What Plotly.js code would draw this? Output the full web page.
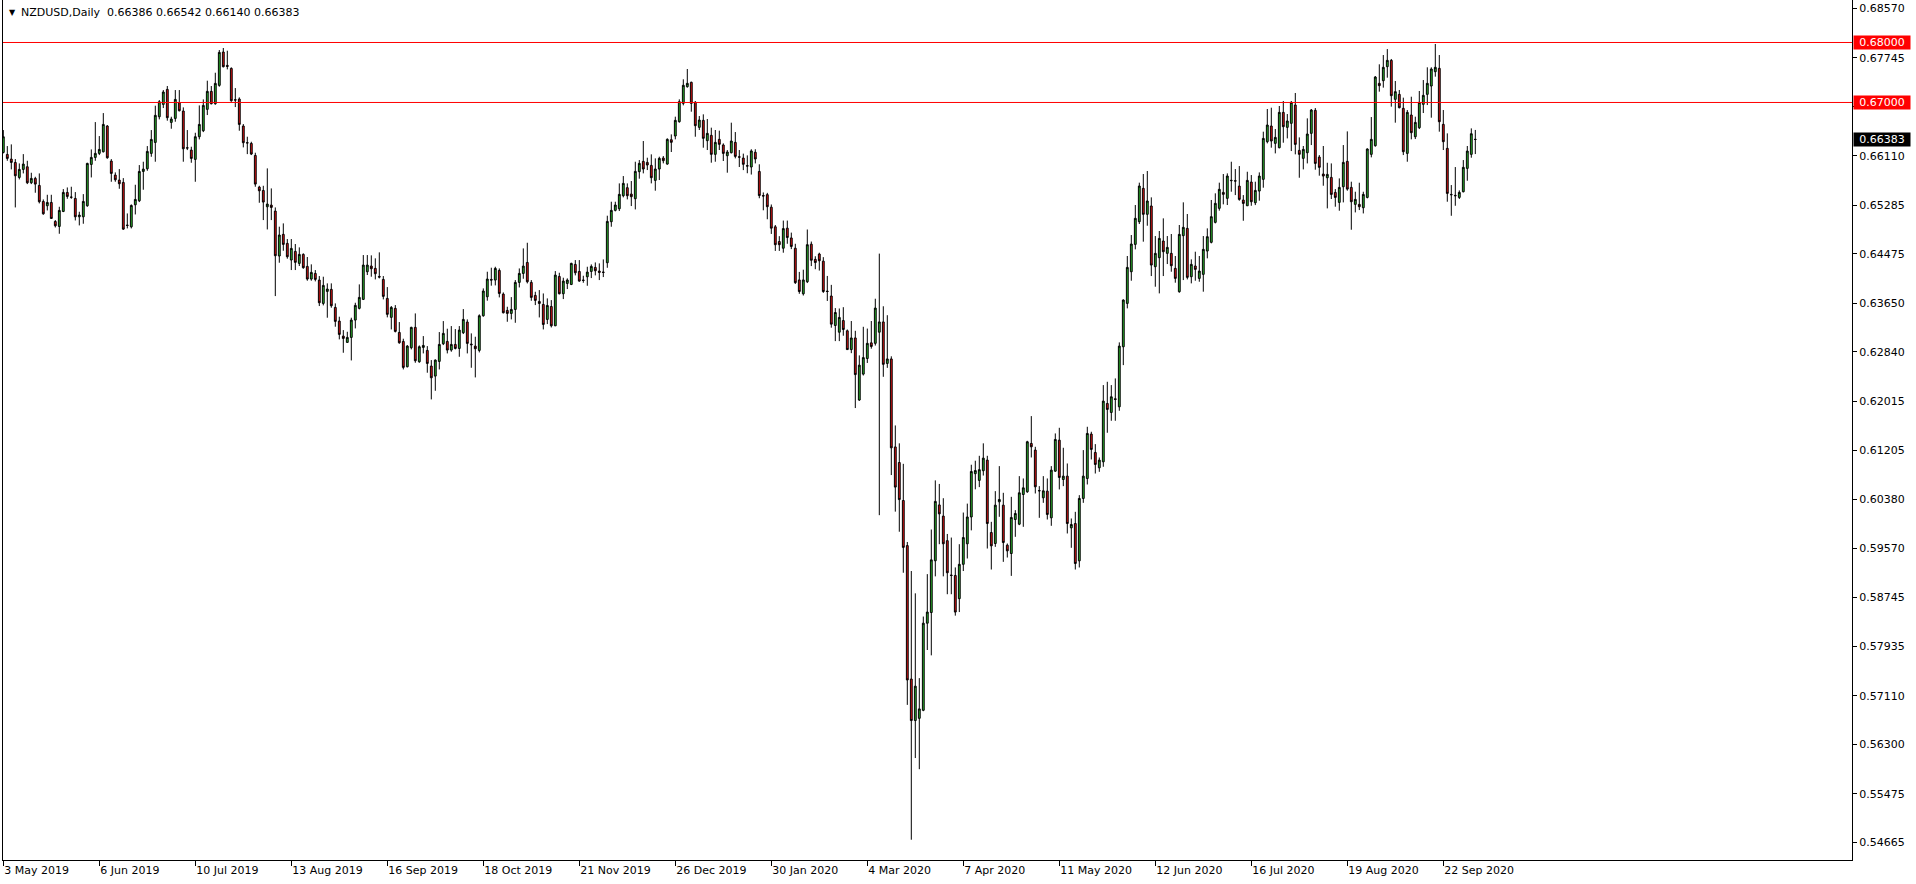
<!DOCTYPE html>
<html>
<head>
<meta charset="utf-8">
<script src="https://cdn.plot.ly/plotly-3.0.1.min.js"></script>
<style>
html,body{margin:0;padding:0;background:#ffffff;overflow:hidden;}
#chart{width:1916px;height:884px;}
</style>
</head>
<body>
<div id="chart"></div>
<script>
// ---- data (NZDUSD daily) ----
const symbolTitle = 'NZDUSD,Daily';
const lastBarOHLC = ['0.66386', '0.66542', '0.66140', '0.66383'];

const open = [
0.66167,0.66134,0.66056,0.66000,0.65750,0.65884,0.65928,0.65661,0.65734,0.65617,
0.65350,0.65278,0.65333,0.65016,0.64933,0.65183,0.65500,0.65422,0.65400,0.65094,
0.65094,0.65278,0.65967,0.66084,0.66151,0.66178,0.66607,0.66023,0.65789,0.65706,
0.65667,0.64955,0.64927,0.65294,0.65361,0.65850,0.65895,0.66151,0.66334,0.66762,
0.66968,0.67218,0.66668,0.66734,0.66996,0.66857,0.66245,0.66206,0.66051,0.66429,
0.66529,0.66885,0.67185,0.66979,0.67285,0.67841,0.67618,0.67568,0.67046,0.67057,
0.66607,0.66329,0.66317,0.66117,0.65589,0.65533,0.65261,0.65289,0.65189,0.64440,
0.64801,0.64651,0.64373,0.64517,0.64317,0.64467,0.64267,0.64056,0.64150,0.64039,
0.63650,0.63850,0.63884,0.63583,0.63355,0.63105,0.63000,0.63083,0.63372,0.63567,
0.63717,0.64178,0.64273,0.64234,0.64100,0.64050,0.63733,0.63417,0.63567,0.63166,
0.63016,0.62594,0.62911,0.63250,0.62677,0.62916,0.62866,0.62605,0.62438,0.62683,
0.62977,0.63016,0.62872,0.62966,0.62899,0.63161,0.63339,0.62972,0.62938,0.62866,
0.63444,0.63761,0.64050,0.64039,0.64200,0.63805,0.63533,0.63483,0.63549,0.64000,
0.64150,0.64333,0.64000,0.63783,0.63683,0.63633,0.63383,0.63599,0.63277,0.64100,
0.63811,0.63983,0.63966,0.64300,0.64183,0.64039,0.64094,0.64183,0.64250,0.64189,
0.64172,0.64328,0.65012,0.65201,0.65228,0.65445,0.65579,0.65473,0.65395,0.65846,
0.66018,0.66001,0.65951,0.65701,0.65890,0.66074,0.65973,0.66379,0.66441,0.66680,
0.66985,0.67263,0.67336,0.67002,0.66585,0.66702,0.66363,0.66452,0.66135,0.66385,
0.66291,0.66112,0.66162,0.66335,0.66095,0.66073,0.65947,0.65924,0.66170,0.65850,
0.65448,0.65463,0.65254,0.64927,0.64681,0.64570,0.64904,0.64741,0.64570,0.64041,
0.63810,0.64011,0.64637,0.64384,0.64473,0.64354,0.63855,0.63773,0.63282,0.63170,
0.63364,0.63193,0.62880,0.63074,0.62039,0.62471,0.62731,0.62992,0.62984,0.63170,
0.63341,0.62649,0.62724,0.61257,0.60997,0.60364,0.59612,0.57387,0.56695,0.56732,
0.56866,0.58318,0.58496,0.59359,0.60290,0.60104,0.59694,0.59121,0.59114,0.58727,
0.59300,0.59642,0.60089,0.60811,0.60699,0.60860,0.61037,0.59830,0.59647,0.60342,
0.60286,0.59619,0.59480,0.60047,0.59969,0.60464,0.60509,0.61315,0.61204,0.60531,
0.60409,0.60520,0.60075,0.60853,0.61370,0.60714,0.60770,0.59908,0.59980,0.59358,
0.60398,0.60731,0.61471,0.61165,0.60909,0.61009,0.61982,0.61832,0.62060,0.61926,
0.62927,0.63650,0.64178,0.64634,0.65012,0.65568,0.65135,0.65274,0.64262,0.64412,
0.64690,0.64484,0.64484,0.64234,0.63845,0.64779,0.64901,0.64095,0.64273,0.64067,
0.64134,0.64523,0.64668,0.65001,0.65235,0.65501,0.65401,0.65695,0.65695,0.65606,
0.65373,0.65278,0.65673,0.65328,0.65523,0.65718,0.66346,0.66607,0.66318,0.66246,
0.66835,0.66585,0.66652,0.66957,0.66201,0.66068,0.66162,0.66485,0.66869,0.66090,
0.65807,0.65745,0.65751,0.65501,0.65334,0.65595,0.66018,0.65584,0.65301,0.65301,
0.65245,0.65417,0.66135,0.66279,0.67319,0.67363,0.67597,0.67702,0.67052,0.67135,
0.66902,0.66151,0.66791,0.66429,0.66579,0.66969,0.67135,0.67274,0.67513,0.67569,
0.66635,0.66235,0.65467,0.65451,0.65417,0.65512,0.65901,0.66135,0.66386
];

const high = [
0.66540,0.66273,0.66301,0.66056,0.65984,0.66139,0.66028,0.65828,0.65761,0.65817,
0.65383,0.65461,0.65461,0.65039,0.65261,0.65556,0.65583,0.65595,0.65506,0.65178,
0.65472,0.65995,0.66217,0.66673,0.66440,0.66823,0.66623,0.66056,0.65834,0.65889,
0.65739,0.65150,0.65300,0.65628,0.65956,0.66012,0.66273,0.66540,0.66946,0.67040,
0.67207,0.67274,0.66762,0.67207,0.67207,0.66918,0.66540,0.66262,0.66495,0.66951,
0.67051,0.67363,0.67274,0.67496,0.67874,0.67908,0.67863,0.67585,0.67240,0.67085,
0.66640,0.66429,0.66345,0.66162,0.65611,0.65611,0.65901,0.65567,0.65250,0.64929,
0.64984,0.64723,0.64723,0.64640,0.64584,0.64484,0.64423,0.64301,0.64206,0.64106,
0.64095,0.63984,0.63984,0.63650,0.63428,0.63205,0.63177,0.63411,0.63661,0.63967,
0.64456,0.64456,0.64451,0.64401,0.64501,0.64106,0.63922,0.63606,0.63622,0.63339,
0.63061,0.62955,0.63261,0.63483,0.62949,0.63105,0.62938,0.62705,0.62716,0.63172,
0.63355,0.63228,0.63272,0.63222,0.63272,0.63555,0.63383,0.63150,0.63094,0.63467,
0.63900,0.64178,0.64245,0.64261,0.64233,0.63833,0.63594,0.63755,0.64039,0.64233,
0.64567,0.64661,0.64039,0.63844,0.63872,0.63816,0.63733,0.63705,0.64189,0.64161,
0.64078,0.64067,0.64328,0.64372,0.64372,0.64111,0.64261,0.64300,0.64333,0.64317,
0.64383,0.65112,0.65345,0.65345,0.65651,0.65773,0.65651,0.65690,0.66012,0.66040,
0.66357,0.66079,0.66135,0.66068,0.66096,0.66107,0.66402,0.66468,0.66763,0.67052,
0.67386,0.67558,0.67347,0.67024,0.66774,0.66802,0.66724,0.66580,0.66541,0.66530,
0.66318,0.66207,0.66663,0.66507,0.66207,0.66147,0.66118,0.66220,0.66220,0.65969,
0.65500,0.65493,0.65299,0.64957,0.64771,0.65031,0.65031,0.64830,0.64644,0.64175,
0.64212,0.64882,0.64681,0.64436,0.64495,0.64421,0.64108,0.63959,0.63572,0.63565,
0.63587,0.63215,0.63356,0.63193,0.62783,0.63260,0.63230,0.63356,0.63728,0.64480,
0.63602,0.63453,0.62768,0.61615,0.61317,0.60975,0.59672,0.59188,0.58816,0.57402,
0.58429,0.59136,0.59880,0.60699,0.60640,0.60402,0.59806,0.59746,0.59248,0.59635,
0.60163,0.60312,0.60960,0.61027,0.61109,0.61317,0.61109,0.60008,0.60520,0.60937,
0.60492,0.59647,0.60425,0.60203,0.60770,0.60731,0.61359,0.61771,0.61259,0.60603,
0.60770,0.60731,0.60937,0.61482,0.61576,0.61243,0.60981,0.60064,0.60175,0.60453,
0.61204,0.61593,0.61510,0.61304,0.61081,0.62288,0.62343,0.62288,0.62399,0.63000,
0.63717,0.64440,0.64790,0.65290,0.65663,0.65807,0.65857,0.65418,0.64773,0.64857,
0.65068,0.64773,0.64807,0.64440,0.64957,0.65335,0.65140,0.64384,0.64512,0.64440,
0.64773,0.64901,0.65374,0.65485,0.65663,0.65807,0.65818,0.66012,0.65890,0.65940,
0.65456,0.65845,0.65790,0.65679,0.65834,0.66513,0.66891,0.66913,0.66557,0.66941,
0.67024,0.66807,0.67024,0.67158,0.66418,0.66274,0.66735,0.66891,0.66907,0.66123,
0.66274,0.65995,0.65984,0.65556,0.65734,0.66290,0.66518,0.65679,0.65512,0.65662,
0.65512,0.66235,0.66757,0.67441,0.67636,0.67791,0.67890,0.67725,0.67358,0.67208,
0.67080,0.66874,0.67096,0.66763,0.67191,0.67374,0.67586,0.67586,0.67975,0.67791,
0.66874,0.66485,0.65623,0.65923,0.65534,0.66040,0.66274,0.66568,0.66542
];

const low = [
0.66151,0.66028,0.65884,0.65250,0.65717,0.65817,0.65639,0.65639,0.65495,0.65317,
0.65128,0.65200,0.65066,0.64916,0.64811,0.65172,0.65394,0.65394,0.65033,0.64950,
0.64978,0.65261,0.65750,0.66028,0.66123,0.66167,0.66062,0.65678,0.65678,0.65561,
0.64877,0.64900,0.64900,0.65133,0.65339,0.65545,0.65861,0.66095,0.66012,0.66718,
0.66907,0.66696,0.66562,0.66679,0.66851,0.66012,0.66206,0.65995,0.65678,0.66384,
0.66506,0.66790,0.66968,0.66962,0.67263,0.67585,0.67552,0.67012,0.66923,0.66529,
0.66251,0.66139,0.66123,0.65595,0.65328,0.65039,0.64883,0.65039,0.63772,0.64328,
0.64528,0.64395,0.64206,0.64206,0.64273,0.64228,0.64028,0.64028,0.64017,0.63606,
0.63617,0.63411,0.63578,0.63261,0.63050,0.62827,0.62994,0.62699,0.63233,0.63550,
0.63706,0.64123,0.64095,0.64050,0.64067,0.63717,0.63417,0.63216,0.63166,0.62977,
0.62549,0.62583,0.62883,0.62660,0.62660,0.62816,0.62494,0.62049,0.62193,0.62549,
0.62955,0.62816,0.62844,0.62883,0.62760,0.63139,0.62816,0.62577,0.62416,0.62833,
0.63428,0.63695,0.63945,0.63950,0.63750,0.63483,0.63344,0.63383,0.63327,0.63916,
0.64061,0.63983,0.63694,0.63622,0.63416,0.63216,0.63305,0.63249,0.63271,0.63800,
0.63722,0.63889,0.63955,0.64117,0.64011,0.63994,0.63944,0.64072,0.64117,0.64039,
0.64089,0.64244,0.64928,0.65184,0.65190,0.65418,0.65384,0.65273,0.65217,0.65729,
0.65818,0.65873,0.65651,0.65529,0.65707,0.65985,0.65962,0.66174,0.66385,0.66663,
0.66952,0.67247,0.66846,0.66429,0.66541,0.66246,0.66207,0.65996,0.66012,0.66207,
0.66024,0.65829,0.66151,0.66068,0.65924,0.65872,0.65820,0.65798,0.65984,0.65403,
0.65202,0.65053,0.64808,0.64525,0.64525,0.64495,0.64644,0.64555,0.63974,0.63810,
0.63781,0.63989,0.64272,0.64220,0.64197,0.63825,0.63691,0.63245,0.63021,0.63021,
0.63111,0.62873,0.62820,0.61905,0.62024,0.62448,0.62657,0.62895,0.62947,0.60119,
0.62426,0.62575,0.60788,0.60178,0.59843,0.59159,0.56956,0.54708,0.56070,0.55884,
0.56851,0.57871,0.57782,0.59099,0.59635,0.59099,0.58801,0.58801,0.58444,0.58504,
0.59188,0.59397,0.59866,0.60550,0.60587,0.60780,0.59563,0.59213,0.59591,0.60092,
0.59341,0.59413,0.59107,0.59758,0.59953,0.59925,0.60492,0.61081,0.60481,0.60075,
0.60325,0.60047,0.59942,0.60842,0.60548,0.60603,0.59814,0.59575,0.59213,0.59247,
0.60325,0.60631,0.61048,0.60814,0.60842,0.60926,0.61493,0.61693,0.61693,0.61860,
0.62621,0.63567,0.64028,0.64551,0.64973,0.64679,0.64945,0.64106,0.63928,0.63817,
0.64106,0.64306,0.64178,0.63995,0.63828,0.64039,0.64050,0.63984,0.64028,0.64011,
0.63845,0.64401,0.64651,0.64984,0.65196,0.65301,0.65290,0.65512,0.65456,0.65362,
0.65028,0.65273,0.65278,0.65289,0.65362,0.65579,0.66318,0.66246,0.66151,0.66235,
0.66329,0.66401,0.66190,0.66135,0.65745,0.65884,0.65984,0.66290,0.65879,0.65779,
0.65612,0.65234,0.65390,0.65262,0.65195,0.65334,0.65529,0.64878,0.65167,0.65206,
0.65150,0.65401,0.66085,0.66263,0.67180,0.67247,0.67413,0.66930,0.66663,0.66902,
0.66123,0.66012,0.66385,0.66390,0.66557,0.66824,0.66957,0.66746,0.67430,0.66513,
0.66207,0.65345,0.65111,0.65278,0.65390,0.65501,0.65695,0.66079,0.66140
];

const close = [
0.66429,0.66067,0.66000,0.65778,0.65884,0.65973,0.65661,0.65734,0.65639,0.65345,
0.65144,0.65333,0.65066,0.64944,0.65200,0.65500,0.65433,0.65420,0.65094,0.65122,
0.65350,0.65984,0.66084,0.66151,0.66217,0.66634,0.66078,0.65817,0.65711,0.65645,
0.64888,0.64950,0.65283,0.65383,0.65850,0.65889,0.66184,0.66384,0.66785,0.67012,
0.67174,0.66746,0.66723,0.67051,0.66862,0.66228,0.66240,0.66067,0.66429,0.66634,
0.66951,0.67185,0.66979,0.67318,0.67835,0.67596,0.67602,0.67029,0.67040,0.66634,
0.66329,0.66325,0.66140,0.65639,0.65528,0.65339,0.65306,0.65250,0.64445,0.64790,
0.64634,0.64428,0.64567,0.64334,0.64467,0.64245,0.64056,0.64167,0.64050,0.63661,
0.63950,0.63889,0.63611,0.63350,0.63133,0.63066,0.63083,0.63372,0.63617,0.63750,
0.64289,0.64289,0.64228,0.64145,0.64089,0.63767,0.63467,0.63583,0.63183,0.62994,
0.62583,0.62938,0.63250,0.62694,0.62927,0.62949,0.62649,0.62410,0.62705,0.62966,
0.63150,0.62872,0.62966,0.62899,0.63205,0.63383,0.62983,0.62961,0.62894,0.63444,
0.63856,0.64056,0.64039,0.64233,0.63816,0.63494,0.63483,0.63549,0.64000,0.64150,
0.64272,0.64011,0.63750,0.63700,0.63649,0.63299,0.63616,0.63277,0.64122,0.63811,
0.64022,0.64039,0.64317,0.64161,0.64022,0.64033,0.64172,0.64267,0.64194,0.64167,
0.64167,0.65017,0.65201,0.65290,0.65468,0.65651,0.65445,0.65429,0.65851,0.65985,
0.65890,0.65957,0.65746,0.65890,0.66068,0.66029,0.66385,0.66335,0.66702,0.67013,
0.67286,0.67319,0.66985,0.66613,0.66707,0.66402,0.66485,0.66135,0.66335,0.66302,
0.66151,0.66174,0.66357,0.66101,0.66088,0.65969,0.65940,0.66192,0.66058,0.65448,
0.65440,0.65262,0.64904,0.64629,0.64629,0.64897,0.64748,0.64599,0.63996,0.63848,
0.64041,0.64629,0.64369,0.64331,0.64361,0.63848,0.63848,0.63304,0.63498,0.63416,
0.63215,0.62880,0.63074,0.62463,0.62620,0.62746,0.62984,0.62932,0.63572,0.63341,
0.62634,0.62724,0.61242,0.60587,0.60379,0.59582,0.57372,0.56695,0.57268,0.56889,
0.58318,0.58504,0.59374,0.60349,0.60141,0.59642,0.59159,0.59114,0.58504,0.59300,
0.59746,0.60089,0.60848,0.60863,0.60878,0.61070,0.59980,0.59608,0.60286,0.60381,
0.59663,0.59524,0.60081,0.60147,0.60492,0.60575,0.61343,0.61259,0.60592,0.60525,
0.60525,0.60131,0.60870,0.61382,0.60748,0.60770,0.59980,0.59964,0.59313,0.60398,
0.60770,0.61482,0.61215,0.60965,0.61037,0.62021,0.61882,0.62093,0.62049,0.62938,
0.63706,0.64250,0.64640,0.65068,0.65607,0.65135,0.65357,0.64289,0.64484,0.64734,
0.64512,0.64584,0.64278,0.64067,0.64801,0.64918,0.64084,0.64301,0.64217,0.64189,
0.64551,0.64762,0.65096,0.65318,0.65552,0.65468,0.65774,0.65701,0.65690,0.65384,
0.65317,0.65701,0.65345,0.65534,0.65773,0.66401,0.66624,0.66357,0.66418,0.66835,
0.66596,0.66691,0.67002,0.66301,0.66135,0.66218,0.66474,0.66874,0.65984,0.65918,
0.65773,0.65801,0.65467,0.65417,0.65584,0.66001,0.65556,0.65345,0.65384,0.65262,
0.65467,0.66224,0.66385,0.67424,0.67280,0.67586,0.67702,0.67113,0.67180,0.66913,
0.66179,0.66835,0.66496,0.66668,0.67002,0.67119,0.67319,0.67558,0.67586,0.66679,
0.66346,0.65484,0.65462,0.65445,0.65501,0.65918,0.66190,0.66479,0.66383
];

// time-axis labels and the bar number each one belongs to
const dateLabels = ['3 May 2019','6 Jun 2019','10 Jul 2019','13 Aug 2019','16 Sep 2019','18 Oct 2019',
  '21 Nov 2019','26 Dec 2019','30 Jan 2020','4 Mar 2020','7 Apr 2020','11 May 2020',
  '12 Jun 2020','16 Jul 2020','19 Aug 2020','22 Sep 2020'];
const dateLabelBars = [0,24,48,72,96,120,144,168,192,216,240,264,288,312,336,360];

// price-scale ticks (0.66935 sits under the 0.67000 tag and is not readable)
const priceTicks = [0.68570,0.67745,0.66935,0.66110,0.65285,0.64475,0.63650,0.62840,0.62015,
  0.61205,0.60380,0.59570,0.58745,0.57935,0.57110,0.56300,0.55475,0.54665];
const hiddenPriceTicks = [0.66935];

// horizontal levels drawn on the chart
const levels = [0.68000, 0.67000];
const lastPrice = 0.66383;

// ---- drawing ----
const FONT = 'DejaVu Sans, Verdana, Tahoma, sans-serif';
const bars = open.map((_, i) => i);

const trace = {
  type: 'candlestick',
  x: bars, open: open, high: high, low: low, close: close,
  increasing: {line: {color: '#000000', width: 1}, fillcolor: '#2db52d'},
  decreasing: {line: {color: '#000000', width: 1}, fillcolor: '#e01414'},
  whiskerwidth: 0,
  hoverinfo: 'skip',
  showlegend: false
};

const shapes = levels.map(v => ({
  type: 'line', xref: 'paper', x0: 0, x1: 1, yref: 'y', y0: v, y1: v,
  line: {color: '#ff0000', width: 1}, layer: 'above'
}));

function priceTag(v, bg) {
  return {
    xref: 'paper', x: 1, xanchor: 'left', xshift: 1,
    yref: 'y', y: v, yanchor: 'middle',
    text: v.toFixed(5), showarrow: false,
    bgcolor: bg, borderpad: 0, width: 56, height: 13,
    font: {family: FONT, size: 11, color: '#ffffff'}, align: 'center'
  };
}

const annotations = [
  {xref: 'paper', x: 0, xanchor: 'center', xshift: 9, yref: 'paper', y: 1, yanchor: 'middle', yshift: -12,
   text: '\u25BC', showarrow: false, font: {family: FONT, size: 8, color: '#000000'}},
  {xref: 'paper', x: 0, xanchor: 'left', xshift: 17, yref: 'paper', y: 1, yanchor: 'middle', yshift: -12,
   text: symbolTitle + '\u00a0\u00a0' + lastBarOHLC.join(' '), showarrow: false, borderpad: 0,
   font: {family: FONT, size: 11, color: '#000000'}},
  ...levels.map(v => priceTag(v, '#ff0000')),
  priceTag(lastPrice, '#000000')
];

const layout = {
  width: 1916, height: 884,
  margin: {l: 3, r: 64, t: 0, b: 24, pad: 0},
  paper_bgcolor: '#ffffff', plot_bgcolor: '#ffffff',
  showlegend: false,
  boxgap: 0.35,
  font: {family: FONT, size: 11, color: '#000000'},
  xaxis: {
    range: [-0.075, 462.175], fixedrange: true,
    showgrid: false, zeroline: false,
    showline: true, linecolor: '#000000', linewidth: 1, mirror: false,
    ticks: 'outside', ticklen: 5, tickwidth: 1, tickcolor: '#000000',
    tickvals: dateLabelBars, ticktext: dateLabels,
    ticklabelposition: 'outside right',
    tickfont: {family: FONT, size: 11, color: '#000000'},
    rangeslider: {visible: false}
  },
  yaxis: {
    side: 'right', range: [0.54370, 0.687084], fixedrange: true,
    showgrid: false, zeroline: false,
    showline: true, linecolor: '#000000', linewidth: 1, mirror: true,
    ticks: 'outside', ticklen: 4, tickwidth: 1, tickcolor: '#000000',
    tickvals: priceTicks,
    ticktext: priceTicks.map(v => hiddenPriceTicks.includes(v) ? '' : v.toFixed(5)),
    tickfont: {family: FONT, size: 11, color: '#000000'}
  },
  shapes: shapes,
  annotations: annotations
};

Plotly.newPlot('chart', [trace], layout, {staticPlot: true, displayModeBar: false});
</script>
</body>
</html>
